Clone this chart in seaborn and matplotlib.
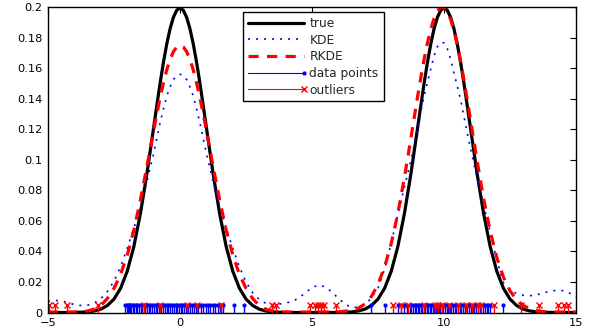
import numpy as np
import pandas as pd
import matplotlib
matplotlib.use("Agg")
import matplotlib.pyplot as plt
from matplotlib.lines import Line2D
from matplotlib.legend_handler import HandlerBase
from matplotlib.ticker import FuncFormatter
import seaborn as sns

# sample positions: every 0.25, every 0.125 around the two peaks
x_grid = np.concatenate([
    np.arange(-5, -1, 0.25), np.arange(-1, 1, 0.125), np.arange(1, 9, 0.25),
    np.arange(9, 11, 0.125), np.arange(11, 15.01, 0.25),
])
# densities
true_density = [
    0.0000, 0.0000, 0.0000, 0.0000, 0.0001, 0.0002, 0.0004, 0.0010, 0.0022, 0.0046,
    0.0088, 0.0159, 0.0270, 0.0431, 0.0648, 0.0913,
    0.1210, 0.1360, 0.1506, 0.1641, 0.1760, 0.1859, 0.1933, 0.1979, 0.1995, 0.1979,
    0.1933, 0.1859, 0.1760, 0.1641, 0.1506, 0.1360,
    0.1210, 0.0913, 0.0648, 0.0431, 0.0270, 0.0159, 0.0088, 0.0046, 0.0022, 0.0010,
    0.0004, 0.0002, 0.0001, 0.0000, 0.0000, 0.0000, 0.0000, 0.0000, 0.0000, 0.0000,
    0.0001, 0.0002, 0.0004, 0.0010, 0.0022, 0.0046, 0.0088, 0.0159, 0.0270, 0.0431,
    0.0648, 0.0913,
    0.1210, 0.1360, 0.1506, 0.1641, 0.1760, 0.1859, 0.1933, 0.1979, 0.1995, 0.1979,
    0.1933, 0.1859, 0.1760, 0.1641, 0.1506, 0.1360,
    0.1210, 0.0913, 0.0648, 0.0431, 0.0270, 0.0159, 0.0088, 0.0046, 0.0022, 0.0010,
    0.0004, 0.0002, 0.0001, 0.0000, 0.0000, 0.0000, 0.0000,
]
kde_density = [
    0.0072, 0.0080, 0.0075, 0.0065, 0.0052, 0.0046, 0.0048, 0.0062, 0.0090, 0.0138,
    0.0205, 0.0300, 0.0420, 0.0550, 0.0695, 0.0860,
    0.1040, 0.1143, 0.1245, 0.1335, 0.1418, 0.1478, 0.1525, 0.1551, 0.1560, 0.1551,
    0.1525, 0.1478, 0.1418, 0.1335, 0.1245, 0.1143,
    0.1040, 0.0860, 0.0695, 0.0550, 0.0420, 0.0300, 0.0200, 0.0130, 0.0085, 0.0060,
    0.0052, 0.0055, 0.0062, 0.0072, 0.0095, 0.0130, 0.0163, 0.0180, 0.0168, 0.0135,
    0.0092, 0.0055, 0.0032, 0.0035, 0.0050, 0.0095, 0.0160, 0.0285, 0.0454, 0.0643,
    0.0821, 0.1000,
    0.1209, 0.1317, 0.1421, 0.1507, 0.1597, 0.1682, 0.1741, 0.1768, 0.1766, 0.1728,
    0.1660, 0.1569, 0.1483, 0.1396, 0.1287, 0.1179,
    0.1075, 0.0886, 0.0707, 0.0523, 0.0342, 0.0195, 0.0145, 0.0125, 0.0113, 0.0110,
    0.0115, 0.0128, 0.0138, 0.0145, 0.0143, 0.0128, 0.0100,
]
rkde_density = [
    0.0003, 0.0003, 0.0003, 0.0003, 0.0003, 0.0005, 0.0010, 0.0022, 0.0045, 0.0092,
    0.0158, 0.0250, 0.0376, 0.0539, 0.0737, 0.0960,
    0.1191, 0.1304, 0.1410, 0.1506, 0.1590, 0.1658, 0.1708, 0.1739, 0.1750, 0.1739,
    0.1708, 0.1658, 0.1590, 0.1506, 0.1410, 0.1304,
    0.1191, 0.0960, 0.0737, 0.0539, 0.0376, 0.0250, 0.0158, 0.0092, 0.0045, 0.0022,
    0.0010, 0.0005, 0.0003, 0.0003, 0.0003, 0.0003, 0.0003, 0.0003, 0.0003, 0.0003,
    0.0004, 0.0009, 0.0015, 0.0028, 0.0055, 0.0105, 0.0185, 0.0299, 0.0451, 0.0647,
    0.0883, 0.1146,
    0.1415, 0.1543, 0.1662, 0.1768, 0.1857, 0.1927, 0.1974, 0.1998, 0.1996, 0.1970,
    0.1920, 0.1848, 0.1756, 0.1648, 0.1528, 0.1399,
    0.1265, 0.0996, 0.0746, 0.0532, 0.0360, 0.0232, 0.0142, 0.0083, 0.0046, 0.0024,
    0.0012, 0.0006, 0.0004, 0.0003, 0.0003, 0.0003, 0.0003,
]

data_points = [
    -2.08, -2.02, -1.97, -1.93, -1.88, -1.84, -1.79, -1.73, -1.68, -1.62, -1.55, -1.49,
    -1.44, -1.38, -1.31, -1.25, -1.19, -1.12, -1.05, -0.98, -0.92, -0.86, -0.79, -0.71,
    -0.64, -0.58, -0.51, -0.44, -0.38, -0.31, -0.24, -0.17, -0.11, -0.05, 0.02, 0.09,
    0.15, 0.22, 0.31, 0.38, 0.45, 0.53, 0.61, 0.70, 0.79, 0.88, 0.97, 1.06, 1.15, 1.24,
    1.33, 1.42, 1.50, 1.57, 1.64, 2.05, 2.43,
    7.24, 7.76, 8.27, 8.36, 8.48, 8.58, 8.70, 8.76, 8.83, 8.89, 8.95, 9.01, 9.06, 9.12,
    9.18, 9.23, 9.29, 9.35, 9.40, 9.46, 9.52, 9.57, 9.63, 9.69, 9.75, 9.81, 9.86, 9.92,
    9.98, 10.04, 10.10, 10.16, 10.22, 10.28, 10.34, 10.40, 10.47, 10.53, 10.60, 10.66,
    10.73, 10.80, 10.87, 10.94, 11.01, 11.08, 11.15, 11.22, 11.30, 11.38, 11.46, 11.54,
    11.62, 11.68, 11.74, 12.25,
]
outliers = [
    -4.95, -4.73, -4.29, -3.09, -1.36, -0.76, 0.25, 0.66, 1.54, 3.47, 3.64,
    4.93, 5.12, 5.22, 5.34, 5.47, 5.90, 8.05, 8.38, 8.63, 9.26, 9.64, 9.77, 9.92,
    10.19, 10.52, 10.82, 11.05, 11.28, 11.40, 11.90, 12.92, 13.60, 14.33, 14.56, 14.69,
]
stem_height = 0.005


class StemHandler(HandlerBase):
    # line with the marker only at its right end, like the matlab stem legend
    def create_artists(self, legend, orig, xdescent, ydescent, width, height, fontsize, trans):
        y = (height - ydescent) / 2
        line = Line2D([-xdescent, -xdescent + width], [y, y],
                      color=orig.get_color(), lw=orig.get_linewidth())
        mark = Line2D([-xdescent + width], [y], color=orig.get_color(), ls="none",
                      marker=orig.get_marker(), ms=orig.get_markersize(), mew=1)
        line.set_transform(trans)
        mark.set_transform(trans)
        return [line, mark]


sns.set_style("white")
plt.rcParams["font.family"] = ["DejaVu Sans"]
plt.rcParams["font.size"] = 8

curves = pd.DataFrame({"x": x_grid, "true": true_density,
                       "KDE": kde_density, "RKDE": rkde_density})

fig = plt.figure(figsize=(5.95, 3.32), dpi=100)
ax = fig.add_axes([0.0807, 0.0587, 0.8874, 0.920])

kde_ls = (0, (1.2, 3.6))
rkde_ls = (0, (3.2, 2.6))
sns.lineplot(data=curves, x="x", y="true", ax=ax, color="black", lw=2.3, legend=False)
sns.lineplot(data=curves, x="x", y="KDE", ax=ax, color="blue", lw=1.2,
             linestyle=kde_ls, legend=False)
sns.lineplot(data=curves, x="x", y="RKDE", ax=ax, color="red", lw=2.3,
             linestyle=rkde_ls, legend=False)

st = ax.stem(data_points, [stem_height] * len(data_points),
             linefmt="b-", markerfmt="b.", basefmt=" ")
st.stemlines.set_linewidth(1.0)
st.markerline.set_markersize(4)
so = ax.stem(outliers, [stem_height] * len(outliers),
             linefmt="r-", markerfmt="rx", basefmt=" ")
so.stemlines.set_linewidth(1.0)
so.markerline.set_markersize(5)
so.markerline.set_markeredgewidth(1.0)

ax.set_xlim(-5, 15)
ax.set_ylim(0, 0.2)
ax.set_xticks([-5, 0, 5, 10, 15])
ax.set_yticks(np.linspace(0, 0.2, 11))
ax.yaxis.set_major_formatter(FuncFormatter(lambda v, p: f"{v:g}"))
ax.xaxis.set_major_formatter(FuncFormatter(lambda v, p: f"{v:g}".replace("-", "\u2212")))
ax.set_xlabel("")
ax.set_ylabel("")
ax.tick_params(direction="in", top=True, right=True, length=4, width=0.8,
               labelsize=8.2, colors="black")
ax.tick_params(axis="x", pad=4.3)
ax.tick_params(axis="y", pad=4)
for s in ax.spines.values():
    s.set_color("black")
    s.set_linewidth(1.0)

handles = [
    Line2D([], [], color="black", lw=2.3),
    Line2D([], [], color="blue", lw=1.2, linestyle=kde_ls),
    Line2D([], [], color="red", lw=2.3, linestyle=rkde_ls),
    Line2D([], [], color="blue", lw=0.8, marker=".", ms=4),
    Line2D([], [], color="red", lw=0.8, marker="x", ms=4.5),
]
labels = ["true", "KDE", "RKDE", "data points", "outliers"]
leg = ax.legend(handles, labels, loc="upper left", bbox_to_anchor=(0.369, 0.984),
                frameon=True, fancybox=False, edgecolor="black", framealpha=1,
                handlelength=4.6, handletextpad=0.45, labelspacing=0.3,
                borderpad=0.4, borderaxespad=0, fontsize=8.8,
                handler_map={handles[3]: StemHandler(), handles[4]: StemHandler()})
leg.get_frame().set_linewidth(1.0)

fig.savefig("out.png", dpi=100)
